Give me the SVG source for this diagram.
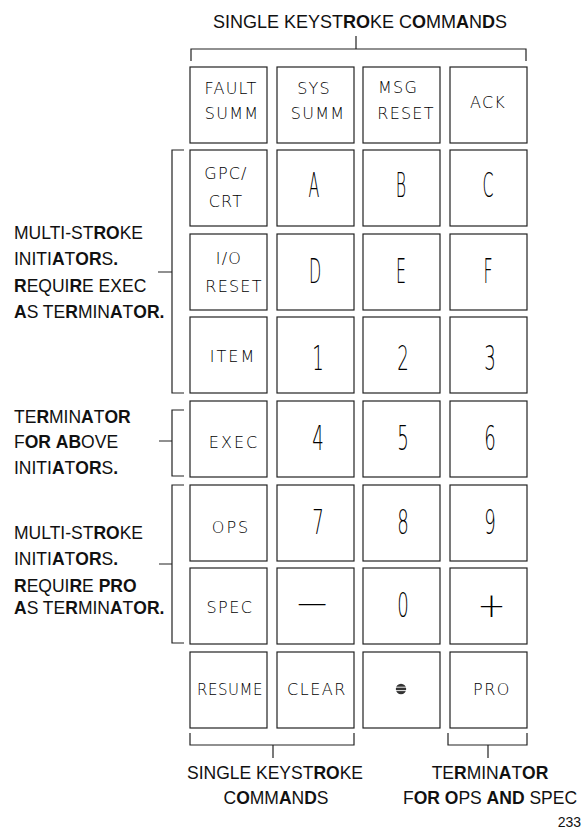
<svg xmlns="http://www.w3.org/2000/svg" width="583" height="831" viewBox="0 0 583 831">
<style>
  .key rect{fill:#fff;stroke:#222;stroke-width:1.2}
  .k{font-family:"DejaVu Sans","Liberation Sans",Arial,sans-serif;font-weight:200;font-size:16px;letter-spacing:1.2px;text-anchor:middle;fill:#000}
  .g{font-family:"DejaVu Sans","Liberation Sans",Arial,sans-serif;font-weight:200;font-size:33px;text-anchor:middle;fill:#000}
  .lbl{font-family:"Liberation Sans",Arial,sans-serif;font-size:17.5px;fill:#111}
  .b{font-weight:bold}
  .conn path{fill:none;stroke:#222;stroke-width:1.2}
</style>
<rect width="583" height="831" fill="#fff"/>

<g id="connectors" class="conn">
  <path d="M191,61 V49 H526 V61 M356,49 V36"/>
  <path d="M184,150 H172 V393 H184 M158,272 H172"/>
  <path d="M184,410 H172 V476 H184 M159,441 H172"/>
  <path d="M184,485 H172 V643 H184 M159,564 H172"/>
  <path d="M190,733 V745 H354 V733 M273,745 V758"/>
  <path d="M448,733 V745 H527 V733 M488,745 V758"/>
</g>

<!-- Row 1 -->
<g id="key-fault-summ" class="key"><rect x="190" y="67" width="77" height="76"/><text class="k" x="231" y="94">FAULT</text><text class="k" x="232" y="119">SUMM</text></g>
<g id="key-sys-summ" class="key"><rect x="277" y="67" width="77" height="76"/><text class="k" x="314" y="94">SYS</text><text class="k" x="318" y="119">SUMM</text></g>
<g id="key-msg-reset" class="key"><rect x="363" y="67" width="77" height="76"/><text class="k" x="398" y="93">MSG</text><text class="k" x="406" y="119">RESET</text></g>
<g id="key-ack" class="key"><rect x="450" y="67" width="77" height="76"/><text class="k" x="488" y="108">ACK</text></g>

<!-- Row 2 -->
<g id="key-gpc-crt" class="key"><rect x="190" y="150" width="77" height="76"/><text class="k" x="226" y="179">GPC/</text><text class="k" x="226" y="207">CRT</text></g>
<g id="key-a" class="key"><rect x="277" y="150" width="77" height="76"/><text class="g" transform="translate(314,197) scale(0.48,1)">A</text></g>
<g id="key-b" class="key"><rect x="363" y="150" width="77" height="76"/><text class="g" transform="translate(401,197) scale(0.48,1)">B</text></g>
<g id="key-c" class="key"><rect x="450" y="150" width="77" height="76"/><text class="g" transform="translate(488,197) scale(0.48,1)">C</text></g>

<!-- Row 3 -->
<g id="key-io-reset" class="key"><rect x="190" y="234" width="77" height="76"/><text class="k" x="229" y="264">I/O</text><text class="k" x="234" y="292">RESET</text></g>
<g id="key-d" class="key"><rect x="277" y="234" width="77" height="76"/><text class="g" transform="translate(315,283) scale(0.48,1)">D</text></g>
<g id="key-e" class="key"><rect x="363" y="234" width="77" height="76"/><text class="g" transform="translate(401,283) scale(0.48,1)">E</text></g>
<g id="key-f" class="key"><rect x="450" y="234" width="77" height="76"/><text class="g" transform="translate(488,283) scale(0.48,1)">F</text></g>

<!-- Row 4 -->
<g id="key-item" class="key"><rect x="190" y="317" width="77" height="76"/><text class="k" x="233" y="362" style="letter-spacing:2px">ITEM</text></g>
<g id="key-1" class="key"><rect x="277" y="317" width="77" height="76"/><text class="g" transform="translate(318,370) scale(0.55,1)">1</text></g>
<g id="key-2" class="key"><rect x="363" y="317" width="77" height="76"/><text class="g" transform="translate(403,370) scale(0.55,1)">2</text></g>
<g id="key-3" class="key"><rect x="450" y="317" width="77" height="76"/><text class="g" transform="translate(490,370) scale(0.55,1)">3</text></g>

<!-- Row 5 -->
<g id="key-exec" class="key"><rect x="190" y="401" width="77" height="76"/><text class="k" x="234" y="448" style="letter-spacing:2px">EXEC</text></g>
<g id="key-4" class="key"><rect x="277" y="401" width="77" height="76"/><text class="g" transform="translate(318,450) scale(0.55,1)">4</text></g>
<g id="key-5" class="key"><rect x="363" y="401" width="77" height="76"/><text class="g" transform="translate(403,450) scale(0.55,1)">5</text></g>
<g id="key-6" class="key"><rect x="450" y="401" width="77" height="76"/><text class="g" transform="translate(490,450) scale(0.55,1)">6</text></g>

<!-- Row 6 -->
<g id="key-ops" class="key"><rect x="190" y="485" width="77" height="76"/><text class="k" x="231" y="533" style="letter-spacing:2px">OPS</text></g>
<g id="key-7" class="key"><rect x="277" y="485" width="77" height="76"/><text class="g" transform="translate(318,534) scale(0.55,1)">7</text></g>
<g id="key-8" class="key"><rect x="363" y="485" width="77" height="76"/><text class="g" transform="translate(403,534) scale(0.55,1)">8</text></g>
<g id="key-9" class="key"><rect x="450" y="485" width="77" height="76"/><text class="g" transform="translate(490,534) scale(0.55,1)">9</text></g>

<!-- Row 7 -->
<g id="key-spec" class="key"><rect x="190" y="568" width="77" height="76"/><text class="k" x="230" y="613" style="letter-spacing:1.5px">SPEC</text></g>
<g id="key-minus" class="key"><rect x="277" y="568" width="77" height="76"/><text class="g" transform="translate(312,614) scale(0.9,1)">—</text></g>
<g id="key-0" class="key"><rect x="363" y="568" width="77" height="76"/><text class="g" transform="translate(403,617) scale(0.55,1)">0</text></g>
<g id="key-plus" class="key"><rect x="450" y="568" width="77" height="76"/><text class="g" transform="translate(491.5,617)" style="font-size:34px">+</text></g>

<!-- Row 8 -->
<g id="key-resume" class="key"><rect x="190" y="652" width="77" height="76"/><text class="k" x="230" y="695" style="font-size:15px;letter-spacing:0.5px">RESUME</text></g>
<g id="key-clear" class="key"><rect x="277" y="652" width="77" height="76"/><text class="k" x="317" y="695" style="letter-spacing:1.5px">CLEAR</text></g>
<g id="key-dot" class="key"><rect x="363" y="652" width="77" height="76"/>
  <circle cx="401" cy="689" r="5.2" fill="#333"/>
  <path d="M396,687.2 H406 M396,690.6 H406" stroke="#fff" stroke-width="0.9"/>
</g>
<g id="key-pro" class="key"><rect x="450" y="652" width="77" height="76"/><text class="k" x="492" y="695" style="letter-spacing:1.5px">PRO</text></g>

<!-- Labels -->
<g id="label-top">
  <text class="lbl" x="360" y="28" text-anchor="middle" style="font-size:18px">SINGLE KEYST<tspan class="b">RO</tspan>KE C<tspan class="b">O</tspan>MM<tspan class="b">A</tspan>N<tspan class="b">D</tspan>S</text>
</g>
<g id="label-exec-initiators">
  <text class="lbl" x="14" y="239">MULTI-ST<tspan class="b">RO</tspan>KE</text>
  <text class="lbl" x="14" y="265">INITI<tspan class="b">A</tspan>T<tspan class="b">OR</tspan>S<tspan class="b">.</tspan></text>
  <text class="lbl" x="14" y="292"><tspan class="b">R</tspan>EQUI<tspan class="b">R</tspan>E EXEC</text>
  <text class="lbl" x="14" y="318"><tspan class="b">A</tspan>S TE<tspan class="b">R</tspan>MIN<tspan class="b">A</tspan>T<tspan class="b">OR.</tspan></text>
</g>
<g id="label-exec-terminator">
  <text class="lbl" x="14" y="423">TE<tspan class="b">R</tspan>MIN<tspan class="b">A</tspan>T<tspan class="b">OR</tspan></text>
  <text class="lbl" x="14" y="448">F<tspan class="b">OR</tspan> <tspan class="b">AB</tspan>OVE</text>
  <text class="lbl" x="14" y="474">INITI<tspan class="b">A</tspan>T<tspan class="b">OR</tspan>S<tspan class="b">.</tspan></text>
</g>
<g id="label-pro-initiators">
  <text class="lbl" x="14" y="539">MULTI-ST<tspan class="b">RO</tspan>KE</text>
  <text class="lbl" x="14" y="565">INITI<tspan class="b">A</tspan>T<tspan class="b">OR</tspan>S<tspan class="b">.</tspan></text>
  <text class="lbl" x="14" y="592"><tspan class="b">R</tspan>EQUI<tspan class="b">R</tspan>E <tspan class="b">PRO</tspan></text>
  <text class="lbl" x="14" y="614"><tspan class="b">A</tspan>S TE<tspan class="b">R</tspan>MIN<tspan class="b">A</tspan>T<tspan class="b">OR.</tspan></text>
</g>
<g id="label-bottom-single">
  <text class="lbl" x="275" y="779" text-anchor="middle">SINGLE KEYST<tspan class="b">RO</tspan>KE</text>
  <text class="lbl" x="276" y="804" text-anchor="middle">C<tspan class="b">O</tspan>MM<tspan class="b">A</tspan>N<tspan class="b">D</tspan>S</text>
</g>
<g id="label-bottom-terminator">
  <text class="lbl" x="490" y="779" text-anchor="middle">TE<tspan class="b">R</tspan>MIN<tspan class="b">A</tspan>T<tspan class="b">OR</tspan></text>
  <text class="lbl" x="490" y="804" text-anchor="middle">F<tspan class="b">OR</tspan> <tspan class="b">O</tspan>PS <tspan class="b">AND</tspan> SPEC</text>
</g>
<text class="lbl" x="581" y="827" text-anchor="end" style="font-size:14px">233</text>
</svg>
